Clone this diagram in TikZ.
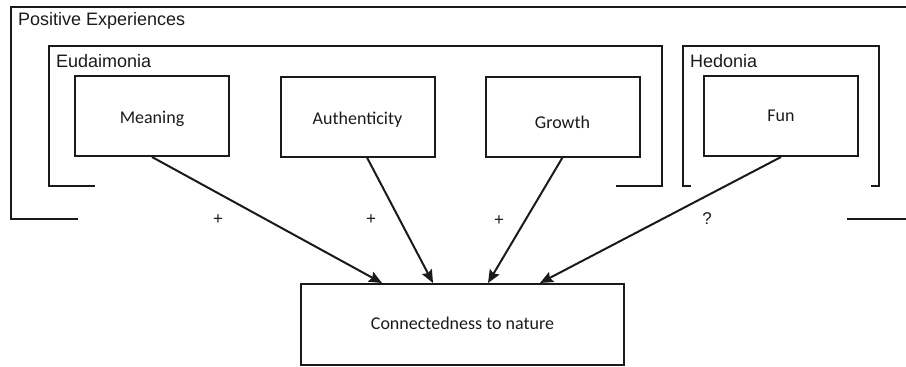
\documentclass[tikz,border=0pt]{standalone}
\usepackage{fontspec}
\setmainfont{Liberation Sans}
\newfontfamily\boxfont{Carlito}
\usetikzlibrary{arrows.meta}
\definecolor{ink}{HTML}{1A1A1A}
\begin{document}
\begin{tikzpicture}[x=1pt,y=-1pt,
  frame/.style={draw=ink,line width=2pt},
  factor/.style={draw=ink,line width=2pt,minimum width=154pt,minimum height=80pt,inner sep=0pt,text depth=0pt,font=\boxfont\fontsize{18}{21}\selectfont,text=ink},
  grouptitle/.style={anchor=base west,inner sep=0pt,font=\fontsize{18}{21}\selectfont,text=ink},
  link/.style={draw=ink,line width=2pt,-{Stealth[length=13pt,width=11pt,inset=2pt]}},
  sign/.style={inner sep=0pt,font=\fontsize{17}{19}\selectfont,text=ink}]
\useasboundingbox (0,0) rectangle (906,367);
% outer bracket
\draw[frame] (78,219) -- (11,219) -- (11,7) -- (910,7);
\draw[frame] (847,219) -- (910,219);
\node[grouptitle] (tpos) at (18,25) {Positive Experiences};
% Eudaimonia bracket
\draw[frame] (95,186) -- (49,186) -- (49,46) -- (662,46) -- (662,186) -- (616,186);
\node[grouptitle] (teud) at (56,67) {Eudaimonia};
% Hedonia bracket
\draw[frame] (691,186) -- (683,186) -- (683,46) -- (879,46) -- (879,186) -- (871,186);
\node[grouptitle] (thed) at (690,67) {Hedonia};
% factor boxes
\node[factor,text height=14pt] (mean) at (152,116) {Meaning};
\node[factor,text height=15pt] (auth) at (357.5,116.5) {Authenticity};
\node[factor,text height=23pt] (grow) at (562.5,116.5) {Growth};
\node[factor,text height=10pt]  (fun)  at (781,116) {Fun};
\node[factor,text height=9pt,minimum width=323pt,minimum height=81pt] (conn) at (462.5,324.5) {Connectedness to nature};
% connectors
\draw[link] (mean.south) -- (conn.north -| 382,0);
\draw[link] (auth.south -| 367,0) -- (conn.north -| 433,0);
\draw[link] (grow.south) -- (conn.north -| 488,0);
\draw[link] (fun.south) -- (conn.north -| 540,0);
% signs
\node[sign] (s1) at (218,220) {+};
\node[sign] (s2) at (371,220) {+};
\node[sign] (s3) at (499,221) {+};
\node[sign] (s4) at (707,219) {?};
\end{tikzpicture}
\end{document}
